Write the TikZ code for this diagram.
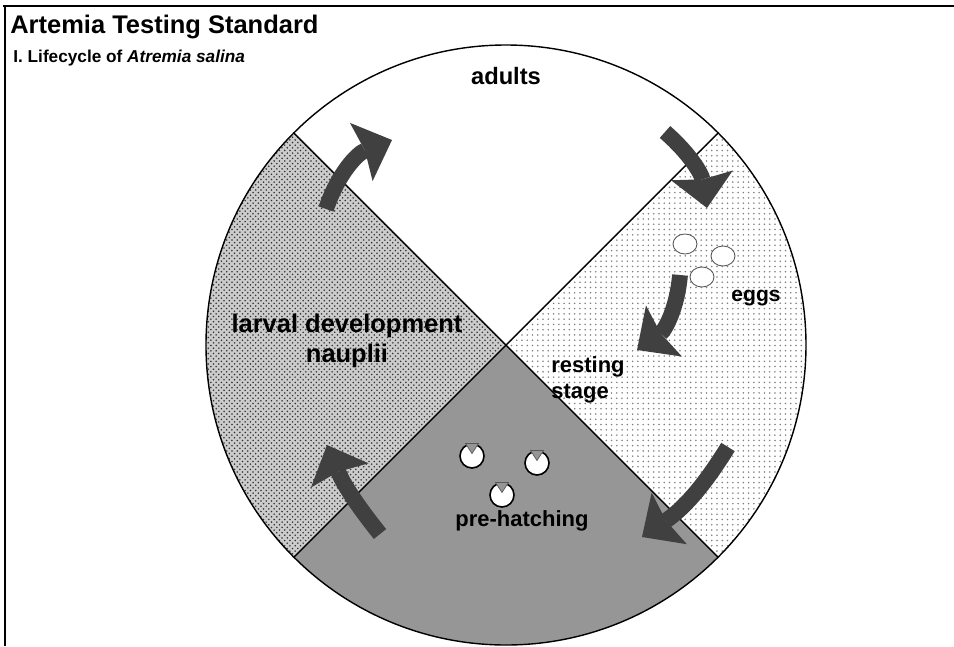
\documentclass[tikz,border=0pt]{standalone}
\usepackage{fontspec}
\setmainfont{Liberation Sans}
\usetikzlibrary{arrows.meta,patterns}
\definecolor{arrowgray}{HTML}{404040}
\definecolor{hatchgray}{HTML}{969696}

\begin{document}
\begin{tikzpicture}[
        cyclearrow/.style={draw=arrowgray, line width=9pt,
            -{Stealth[length=0.66cm, width=1.25cm, inset=0.08cm, line width'=0pt]}},
        stagelabel/.style={font=\fontsize{12.5}{15}\selectfont\bfseries, align=center, inner sep=0pt},
        restegg/.style={draw=gray!70!black, fill=white, line width=0.5pt},
        hatchegg/.style={draw=black, fill=white, line width=0.9pt}
    ]
    \useasboundingbox (-10.12,-6.02) rectangle (8.96,6.9);

    % frame
    \draw[line width=1.7pt] (-10.06,6.78) -- (8.96,6.78);
    \draw[line width=1.1pt] (-10.02,6.78) -- (-10.02,-6.02);

    \node[anchor=base west, inner sep=0pt, font=\fontsize{14.5}{17}\selectfont\bfseries] (title) at (-9.92,6.24) {Artemia Testing Standard};
    \node[anchor=base west, inner sep=0pt, font=\fontsize{9.8}{12}\selectfont\bfseries] (subtitle) at (-9.86,5.66) {I. Lifecycle of \textit{Atremia salina}};

    % the four sectors
    \coordinate (c) at (0,0);
    \fill[pattern=dots, pattern color=gray] (c) -- (-45:6) arc (-45:45:6) -- cycle;
    \fill[gray!40] (c) -- (135:6) arc (135:225:6) -- cycle;
    \fill[pattern=crosshatch dots, pattern color=gray!40!black] (c) -- (135:6) arc (135:225:6) -- cycle;
    \fill[hatchgray] (c) -- (225:6) arc (225:315:6) -- cycle;
    \draw[line width=0.8pt] (135:6) -- (-45:6);
    \draw[line width=0.8pt] (45:6) -- (225:6);
    \draw[line width=0.8pt] (c) circle (6);

    % eggs
    \foreach \p in {(3.58,2.02),(4.34,1.78),(3.92,1.36)}
        {
            \draw[restegg] \p ellipse (0.24 and 0.2);
        }
    \foreach \p in {(-0.68,-2.22),(0.62,-2.36),(-0.08,-3.0)}
        {
            \draw[hatchegg] \p circle (0.24);
            \fill[hatchgray, draw=gray!70!black, line width=0.4pt, shift={\p}] (-0.13,0.25) -- (0.13,0.25) -- (0,0.05) -- cycle;
        }

    % labels
    \node[stagelabel, font=\fontsize{13.5}{16}\selectfont\bfseries] (adults) at (0,5.38) {adults};
    \node[stagelabel, font=\fontsize{12}{15}\selectfont\bfseries] (eggs) at (5.0,0.94) {eggs};
    \node[stagelabel, align=left] (resting) at (1.64,-0.7) {resting\\stage};
    \node[stagelabel, font=\fontsize{14.5}{17}\selectfont\bfseries] (larval) at (-3.18,0.08) {larval development\\nauplii};
    \node[stagelabel] (prehatch) at (0.32,-3.52) {pre-hatching};

    % arrows
    \coordinate (a1s) at (-3.6,2.72);
    \coordinate (a1e) at (-2.28,4.1);
    \coordinate (a2s) at (3.18,4.26);
    \coordinate (a2e) at (4.02,2.74);
    \coordinate (a3s) at (3.48,1.4);
    \coordinate (a3e) at (2.62,-0.1);
    \coordinate (a4s) at (4.44,-2.04);
    \coordinate (a4e) at (2.72,-3.84);
    \coordinate (a5s) at (-2.52,-3.78);
    \coordinate (a5e) at (-3.58,-2.0);
    \draw[cyclearrow] (a1s) to[bend left=25] (a1e);
    \draw[cyclearrow] (a2s) to[bend left=20] (a2e);
    \draw[cyclearrow] (a3s) to[bend left=25] (a3e);
    \draw[cyclearrow] (a4s) to[bend left=12] (a4e);
    \draw[cyclearrow] (a5s) to[bend left=8] (a5e);
\end{tikzpicture}
\end{document}
